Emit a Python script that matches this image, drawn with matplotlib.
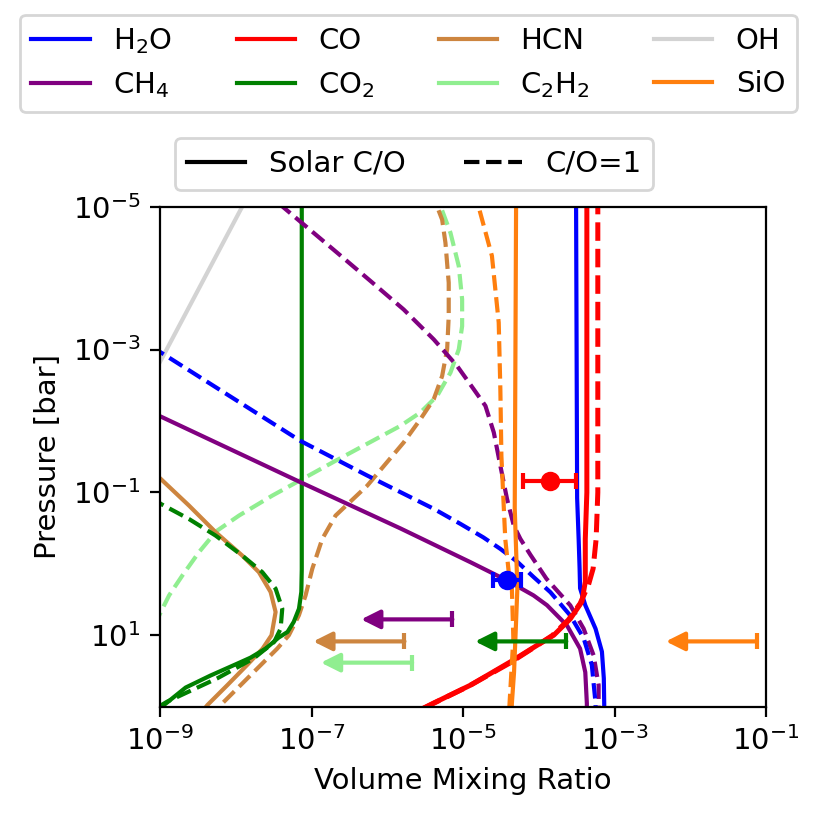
import numpy as np
import matplotlib
matplotlib.use("Agg")
import matplotlib.pyplot as plt
from matplotlib.lines import Line2D
from matplotlib.ticker import NullLocator

plt.rcParams['font.family'] = ['DejaVu Sans']
plt.rcParams['font.size'] = 10.5

# profiles: (VMR, pressure in bar)
# solar C/O
h2o_sol_x = [3.1e-4, 3.1e-4, 3.2e-4, 3.35e-4, 3.45e-4, 3.5e-4, 4.1e-4, 5.6e-4, 6.8e-4, 7.2e-4, 7.3e-4, 7.3e-4]
h2o_sol_p = [3e-6, 1e-5, 0.12, 0.45, 1.17, 2.2, 3.8, 8.1, 17, 40, 100, 160]
co_sol_x = [4.3e-4, 4.3e-4, 4.1e-4, 4.1e-4, 3.7e-4, 2.6e-4, 1.57e-4, 9.5e-5, 4.2e-5, 1.25e-5, 4.0e-6, 1.4e-6]
co_sol_p = [3e-6, 0.1, 0.45, 1.78, 3.4, 5.9, 10, 13.8, 23.6, 50, 90, 160]
ch4_sol_x = [7.5e-10, 1.07e-9, 7.1e-8, 1.49e-6, 1.25e-5, 3.8e-5, 8.5e-5, 1.28e-4, 2.35e-4, 3.5e-4, 4.1e-4, 4.3e-4, 4.3e-4]
ch4_sol_p = [7.5e-3, 8.9e-3, 0.072, 0.32, 0.95, 1.71, 2.77, 3.8, 7.3, 15.4, 33, 90, 160]
co2_sol_x = [7.4e-8, 7.4e-8, 7.3e-8, 6.8e-8, 5.8e-8, 4.8e-8, 3.66e-8, 2.47e-8, 1.56e-8, 1.04e-8,
             4.63e-9, 2.17e-9, 1.12e-9, 5e-10]
co2_sol_p = [3e-6, 1.2, 2.48, 4.25, 6.5, 9.0, 10.8, 15.4, 20.6, 25, 36.6, 54, 95, 160]
hcn_sol_x = [6.3e-10, 1.02e-9, 2.4e-9, 5.4e-9, 1.21e-8, 2.01e-8, 2.87e-8, 3.34e-8, 2.95e-8, 2.25e-8, 1.41e-8, 7.7e-9, 4.2e-9, 3.0e-9]
hcn_sol_p = [0.041, 0.065, 0.153, 0.361, 0.766, 1.31, 2.48, 4.73, 10, 15.4, 26, 50, 95, 150]
oh_sol_x = [7.5e-10, 1.07e-9, 1.21e-8, 1.56e-8]
oh_sol_p = [2.6e-3, 1.29e-3, 1e-5, 6e-6]
sio_sol_x = [5.0e-5, 5.0e-5, 4.8e-5, 5.2e-5, 4.9e-5, 4.7e-5, 4.4e-5, 4.3e-5]
sio_sol_p = [3e-6, 1e-5, 0.167, 2.2, 11, 33, 90, 160]

# C/O = 1
h2o_co1_x = [7.5e-10, 1.12e-9, 7.1e-8, 5.4e-7, 4.1e-6, 9.2e-6, 1.85e-5, 3.1e-5, 5.2e-5, 8.45e-5,
             1.42e-4, 2.6e-4, 3.9e-4, 5.0e-4, 5.6e-4, 5.6e-4]
h2o_co1_p = [8.9e-4, 1.17e-3, 0.019, 0.058, 0.17, 0.276, 0.427, 0.618, 0.938, 1.52,
             2.5, 5.3, 11, 26, 89, 160]
co_co1_x = [6.0e-4, 6.0e-4, 5.7e-4, 5.2e-4, 4.5e-4, 3.5e-4, 2.45e-4, 1.5e-4, 9.0e-5, 4.0e-5, 1.17e-5, 3.8e-6, 1.3e-6]
co_co1_p = [3e-6, 0.1, 0.45, 1.17, 2.0, 3.6, 6.1, 10.1, 14.4, 25, 52, 93, 160]
ch4_co1_x = [2.14e-8, 4.09e-8, 2.18e-7, 5.99e-7, 1.64e-6, 4.09e-6, 8.33e-6, 1.38e-5, 1.97e-5, 2.54e-5,
             3.1e-5, 3.8e-5, 4.66e-5, 5.7e-5, 7.73e-5, 1.26e-4, 2.6e-4, 3.9e-4, 5.28e-4, 6.15e-4, 6.15e-4]
ch4_co1_p = [5.8e-6, 9.9e-6, 4.43e-5, 1.1e-4, 2.75e-4, 7.21e-4, 1.7e-3, 3.6e-3, 6.15e-3, 0.0145,
             0.0424, 0.124, 0.292, 0.448, 0.748, 1.62, 3.82, 8.1, 19.1, 50, 160]
co2_co1_x = [7.5e-10, 1.02e-9, 2.4e-9, 5.4e-9, 1.21e-8, 2.23e-8, 3.34e-8, 4.09e-8, 3.89e-8, 3.2e-8,
             1.73e-8, 5.7e-9, 1.24e-9, 5e-10]
co2_co1_p = [0.115, 0.145, 0.236, 0.403, 0.766, 1.31, 2.23, 4.25, 8.1, 12.4, 21, 40, 85, 150]
hcn_co1_x = [3.7e-6, 4.54e-6, 5.28e-6, 5.84e-6, 6.45e-6, 6.45e-6, 6.15e-6, 5.28e-6, 4.09e-6, 2.73e-6,
             1.64e-6, 5.42e-7, 2.07e-7, 1.38e-7, 1.02e-7, 8.31e-8, 6.78e-8, 5.0e-8, 3.51e-8, 1.56e-8,
             6.28e-9, 4.5e-9]
hcn_co1_p = [5.8e-6, 1e-5, 1.52e-5, 3.21e-5, 1.16e-4, 3.41e-4, 9.93e-4, 2.35e-3, 4.97e-3, 9.44e-3,
             0.02, 0.0805, 0.211, 0.448, 1.17, 2.77, 5.27, 10.0, 15.4, 36.3, 95, 150]
c2h2_co1_x = [4.14e-6, 5.06e-6, 6.81e-6, 8.76e-6, 9.7e-6, 9.7e-6, 8.76e-6, 6.81e-6, 4.54e-6, 2.73e-6,
              1.49e-6, 2.07e-7, 8.31e-8, 3.02e-8, 1.1e-8, 5.5e-9, 3.25e-9, 1.96e-9, 1.31e-9,
              1.02e-9, 7.5e-10]
c2h2_co1_p = [5.8e-6, 1e-5, 2.33e-5, 6.82e-5, 1.99e-4, 4.7e-4, 9.93e-4, 2.1e-3, 4.46e-3, 7.6e-3,
              0.0117, 0.0361, 0.0615, 0.111, 0.211, 0.35, 0.687, 1.46, 2.77,
              4.73, 9.5]
sio_co1_x = [1.33e-5, 1.6e-5, 2.4e-5, 2.95e-5, 3.1e-5, 3.2e-5, 3.4e-5, 3.6e-5, 4.0e-5, 4.4e-5, 4.6e-5, 4.1e-5, 4.0e-5]
sio_co1_p = [5.8e-6, 1e-5, 4.9e-5, 4.2e-4, 3.6e-3, 0.031, 0.124, 0.45, 1.31, 2.2, 11, 90, 160]

# retrieved abundances (H2O, CO)
ret_x = [3.75e-5, 1.42e-4]
ret_p = [1.71, 0.0687]
ret_lo = [1.3e-5, 8.0e-5]
ret_hi = [2.0e-5, 1.68e-4]
ret_col = ['blue', 'red']

# upper limits (CH4, HCN, C2H2, CO2, SiO)
ul_x = [7.2e-6, 1.68e-6, 2.12e-6, 2.3e-4, 7.6e-2]
ul_p = [6.0, 12.2, 24.2, 12.2, 12.2]
ul_col = ['purple', 'peru', 'lightgreen', 'green', 'tab:orange']

species = ['H$_2$O', 'CH$_4$', 'CO', 'CO$_2$', 'HCN', 'C$_2$H$_2$', 'OH', 'SiO']
colors = ['blue', 'purple', 'red', 'green', 'peru', 'lightgreen', 'lightgray', 'tab:orange']

fig = plt.figure(figsize=(4.15, 4.15), dpi=200)
ax = fig.add_axes([0.193, 0.1486, 0.730, 0.6024])

lw = 1.5
ax.plot(oh_sol_x, oh_sol_p, color='lightgray', lw=lw)
ax.plot(c2h2_co1_x, c2h2_co1_p, color='lightgreen', lw=lw, ls='--')
ax.plot(hcn_sol_x, hcn_sol_p, color='peru', lw=lw)
ax.plot(hcn_co1_x, hcn_co1_p, color='peru', lw=lw, ls='--')
ax.plot(co2_sol_x, co2_sol_p, color='green', lw=lw)
ax.plot(co2_co1_x, co2_co1_p, color='green', lw=lw, ls='--')
ax.plot(ch4_sol_x, ch4_sol_p, color='purple', lw=lw)
ax.plot(ch4_co1_x, ch4_co1_p, color='purple', lw=lw, ls='--')
ax.plot(h2o_sol_x, h2o_sol_p, color='blue', lw=lw)
ax.plot(h2o_co1_x, h2o_co1_p, color='blue', lw=lw, ls='--')
ax.plot(co_sol_x, co_sol_p, color='red', lw=1.8)
ax.plot(co_co1_x, co_co1_p, color='red', lw=1.8, ls='--')
ax.plot(sio_sol_x, sio_sol_p, color='tab:orange', lw=lw)
ax.plot(sio_co1_x, sio_co1_p, color='tab:orange', lw=lw, ls='--')

for x, p, lo, hi, c in zip(ret_x, ret_p, ret_lo, ret_hi, ret_col):
    ax.errorbar(x, p, xerr=[[lo], [hi]], fmt='o', color=c, ms=6,
                capsize=3, elinewidth=1.5, capthick=1.5, zorder=5)

for x, p, c in zip(ul_x, ul_p, ul_col):
    ax.annotate('', xy=(x / 16, p), xytext=(x, p),
                arrowprops=dict(arrowstyle='-|>', color=c, lw=1.5,
                                mutation_scale=14, shrinkA=0, shrinkB=0),
                zorder=5)
    ax.plot(x, p, marker='|', ms=6, mew=1.5, color=c, zorder=5)

ax.set_xscale('log')
ax.set_yscale('log')
ax.set_xlim(1e-9, 1e-1)
ax.set_ylim(1e2, 1e-5)
ax.set_xticks([1e-9, 1e-7, 1e-5, 1e-3, 1e-1])
ax.set_yticks([1e-5, 1e-3, 1e-1, 1e1])
ax.xaxis.set_minor_locator(NullLocator())
ax.yaxis.set_minor_locator(NullLocator())
ax.set_xlabel('Volume Mixing Ratio')
ax.set_ylabel('Pressure [bar]')

handles = [Line2D([], [], color=c, lw=1.5) for c in colors]
fig.legend(handles, species, ncol=4, loc='upper center', columnspacing=2.2,
           bbox_to_anchor=(0.492, 1.0))
style_handles = [Line2D([], [], color='black', lw=1.5),
                 Line2D([], [], color='black', lw=1.5, ls='--')]
fig.legend(style_handles, ['Solar C/O', 'C/O=1'], ncol=2, loc='upper center',
           bbox_to_anchor=(0.499, 0.851))

fig.savefig('out.png', dpi=200)
